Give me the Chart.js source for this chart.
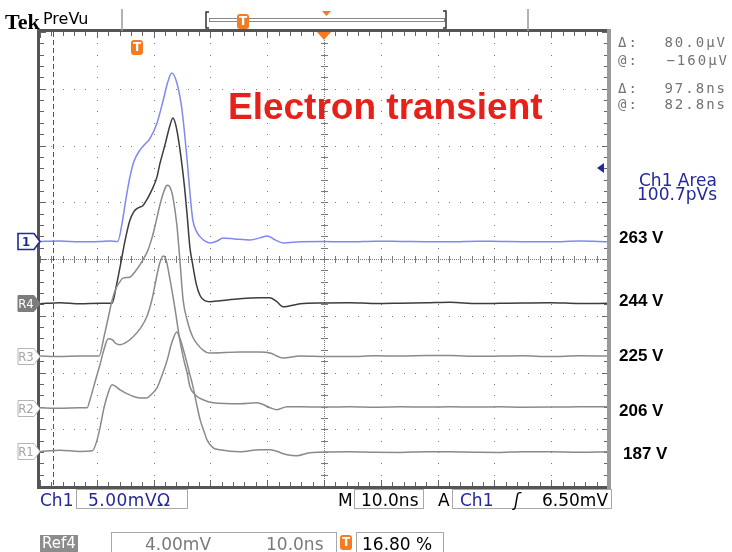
<!DOCTYPE html>
<html>
<head>
<meta charset="utf-8">
<title>Electron transient</title>
<script src="https://cdn.jsdelivr.net/npm/chart.js@4.4.1/dist/chart.umd.min.js"></script>
<style>
  html, body { margin: 0; padding: 0; background: #fff; }
  #screen { position: relative; width: 732px; height: 552px; overflow: hidden; }
  #screen canvas { position: absolute; left: 0; top: 0; }
  .lbl { position: absolute; white-space: nowrap; line-height: 1; }
  .sans { font-family: 'DejaVu Sans', sans-serif; font-size: 17px; }
  .mono { font-family: 'DejaVu Sans Mono', monospace; font-size: 14px; letter-spacing: 2px; color: #737373; }
  .volt { font-family: 'Liberation Sans', Arial, sans-serif; font-weight: bold; font-size: 17px; color: #000; }
  .blue { color: #23289a; }
  .box { position: absolute; border: 1px solid #a8a8a8; box-sizing: border-box; }
  .tmark { position: absolute; width: 12px; height: 15px; background: #f47b20; color: #fff; border-radius: 3px;
           font: bold 12px 'DejaVu Sans', sans-serif; text-align: center; line-height: 15px; }
  .mark { position: absolute; width: 16px; text-align: center; font: 13px 'DejaVu Sans Condensed', 'DejaVu Sans', sans-serif; line-height: 16px; }
</style>
</head>
<body>
<div id="screen">
  <canvas id="scope" width="732" height="552"></canvas>

  <!-- header -->
  <div class="lbl" style="left:5px;top:9px;font:bold 22px 'Liberation Serif',serif;">Tek</div>
  <div class="lbl sans" style="left:43px;top:11px;font-size:16px;">PreVu</div>
  <div class="tmark" style="left:237px;top:14px;">T</div>

  <!-- title -->
  <div class="lbl" style="left:228px;top:86px;font:bold 37px 'Liberation Sans',Arial,sans-serif;color:#e8201a;">Electron transient</div>

  <!-- cursor readouts -->
  <div class="lbl mono" style="left:618px;top:35px;">Δ:</div>
  <div class="lbl mono" style="right:5px;top:35px;">80.0µV</div>
  <div class="lbl mono" style="left:618px;top:53px;">@:</div>
  <div class="lbl mono" style="right:3px;top:53px;">−160µV</div>
  <div class="lbl mono" style="left:618px;top:81px;">Δ:</div>
  <div class="lbl mono" style="right:5px;top:81px;">97.8ns</div>
  <div class="lbl mono" style="left:618px;top:97px;">@:</div>
  <div class="lbl mono" style="right:5px;top:97px;">82.8ns</div>

  <div class="lbl sans blue" style="right:15px;top:172px;">Ch1 Area</div>
  <div class="lbl sans blue" style="right:15px;top:186px;">100.7pVs</div>

  <!-- bias voltages -->
  <div class="lbl volt" style="left:619px;top:229px;">263 V</div>
  <div class="lbl volt" style="left:619px;top:292px;">244 V</div>
  <div class="lbl volt" style="left:619px;top:347px;">225 V</div>
  <div class="lbl volt" style="left:619px;top:402px;">206 V</div>
  <div class="lbl volt" style="left:623px;top:445px;">187 V</div>

  <!-- bottom status -->
  <div class="lbl sans blue" style="left:40px;top:492px;">Ch1</div>
  <div class="box" style="left:76px;top:489px;width:112px;height:20px;"></div>
  <div class="lbl sans blue" style="left:88px;top:492px;letter-spacing:0.5px;">5.00mVΩ</div>
  <div class="lbl sans" style="left:338px;top:492px;">M</div>
  <div class="box" style="left:354px;top:489px;width:70px;height:20px;"></div>
  <div class="lbl sans" style="left:361px;top:492px;">10.0ns</div>
  <div class="lbl sans" style="left:438px;top:492px;">A</div>
  <div class="box" style="left:452px;top:489px;width:160px;height:20px;"></div>
  <div class="lbl sans blue" style="left:460px;top:492px;">Ch1</div>
  <div class="lbl sans" style="left:514px;top:492px;font-style:italic;">ʃ</div>
  <div class="lbl sans" style="left:542px;top:492px;">6.50mV</div>

  <div class="lbl sans" style="left:40px;top:535px;width:38px;height:17px;background:#8c8c8c;color:#fff;font-size:15px;text-align:center;line-height:17px;">Ref4</div>
  <div class="box" style="left:111px;top:532px;width:226px;height:22px;"></div>
  <div class="lbl sans" style="left:145px;top:536px;color:#7a7a7a;">4.00mV</div>
  <div class="lbl sans" style="left:266px;top:536px;color:#7a7a7a;">10.0ns</div>
  <div class="tmark" style="left:340px;top:535px;">T</div>
  <div class="box" style="left:356px;top:532px;width:88px;height:22px;"></div>
  <div class="lbl sans" style="left:362px;top:536px;">16.80 %</div>
</div>

<script>
// horizontal: 10.0 ns/div over 10 divisions, vertical: 8 divisions
const timeMin = 0, timeMax = 100;
const divMin = -4, divMax = 4;
const ch1MvPerDiv = 5.0;
const refMvPerDiv = 4.0;

// ground positions of the traces (divisions from screen centre)
const ch1Ground = 0.31;
const r4Ground = -0.78;
const r3Ground = -1.71;
const r2Ground = -2.62;
const r1Ground = -3.38;

// Ch1, 263 V (live, blue)
const ch1Time = [0, 3.5, 7.0, 10.6, 12.3, 13.7, 14.4, 15.1, 15.8, 16.5, 17.6, 18.5, 19.4, 20.6, 21.7, 22.5, 23.2, 24.1, 25.0, 25.9,
  26.4, 26.9, 27.6, 28.2, 29.0, 29.9, 31.2, 32.2, 34.3, 37.0, 38.7, 40.0, 41.4, 42.8, 45.8, 50.0, 54.6, 59.0, 63.4, 68.0,
  72.2, 77.0, 81.0, 85.0, 89.8, 95.0, 100];
const ch1Mv = [0, 0.04, -0.04, 0, 0.04, 0, 1.45, 3.65, 5.59, 7.00, 8.05, 8.58, 9.11, 10.43, 12.46, 14.04, 14.83, 13.95, 11.58, 7.17,
  4.27, 1.89, 0.84, 0.40, 0.04, -0.13, 0.04, 0.31, 0.22, 0.13, 0.31, 0.48, 0.13, -0.13, -0.04, 0, -0.04, 0.02, 0, -0.03,
  -0.04, 0.02, 0, -0.02, -0.04, 0.03, -0.04];

// R4, 244 V
const r4Time = [0, 3.5, 7.0, 10.6, 12.7, 13.4, 14.1, 15.0, 15.8, 16.5, 17.3, 18.1, 18.8, 19.7, 20.6, 21.1, 22.0, 22.9, 23.4, 23.9,
  24.6, 25.4, 25.9, 26.4, 26.8, 27.5, 28.2, 29.0, 29.9, 31.7, 35.2, 38.7, 40.5, 41.7, 42.8, 44.0, 45.8, 50.0, 54.6, 59.0,
  63.4, 68.0, 72.2, 77.0, 81.0, 85.0, 89.8, 95.0, 100];
const r4Mv = [-0.04, 0.04, -0.04, 0, 0, 1.16, 2.57, 4.47, 5.81, 6.44, 6.73, 6.87, 7.29, 7.99, 8.91, 9.82, 11.16, 12.57, 13.06, 12.57,
  10.95, 8.34, 6.23, 3.91, 2.92, 1.37, 0.53, 0.18, 0.11, 0.18, 0.32, 0.39, 0.39, 0.11, -0.25, -0.18, -0.04, 0.02, 0.04, -0.02,
  0, 0.03, 0.07, -0.02, 0, 0.02, 0.04, -0.02, 0];

// R3, 225 V
const r3Time = [0, 3.5, 7.0, 10.4, 11.3, 12.0, 12.7, 13.4, 13.9, 14.6, 15.8, 16.7, 18.1, 19.0, 19.7, 20.2, 21.1, 21.7, 22.2, 22.5,
  23.1, 23.4, 24.1, 24.6, 25.2, 25.9, 26.9, 28.7, 29.9, 35.2, 38.7, 40.5, 42.8, 45.8, 50.0, 54.6, 59.0, 63.4, 68.0, 72.2,
  77.0, 81.0, 85.0, 89.8, 95.0, 100];
const r3Mv = [0, -0.04, 0, 0, 1.41, 2.68, 3.94, 4.79, 5.14, 5.49, 5.56, 5.92, 6.76, 7.46, 8.31, 9.08, 10.63, 11.48, 11.97, 12.04,
  11.69, 11.20, 9.22, 6.90, 3.94, 2.54, 1.34, 0.42, 0.21, 0.28, 0.28, 0.21, -0.14, 0, -0.03, -0.04, 0.02, 0, 0.03, 0.04,
  -0.02, 0, 0.02, -0.04, 0.02, 0];

// R2, 206 V
const r2Time = [0, 3.5, 7.0, 8.3, 8.8, 9.7, 10.6, 11.3, 12.0, 12.7, 13.4, 14.1, 15.1, 16.4, 17.6, 18.8, 19.7, 20.6, 21.1, 21.7,
  22.2, 22.9, 23.8, 24.6, 25.4, 25.9, 26.4, 27.3, 28.7, 30.5, 35.2, 38.2, 40.5, 41.7, 43.5, 45.8, 50.0, 54.6, 59.0, 63.4,
  68.0, 72.2, 77.0, 81.0, 85.0, 89.8, 95.0, 100];
const r2Mv = [0, -0.04, 0, 0, 0.56, 1.83, 3.10, 4.15, 4.86, 4.79, 4.51, 4.44, 4.58, 5.00, 5.56, 6.41, 7.61, 9.37, 10.21, 10.70,
  10.42, 9.01, 6.90, 4.79, 3.24, 2.46, 1.48, 0.92, 0.56, 0.35, 0.28, 0.35, 0, -0.14, 0.07, 0.07, 0.04, 0.07, 0.03, 0.07,
  0.04, 0.07, 0.04, 0.07, 0.03, 0.04, 0.07, 0.07];

// R1, 187 V
const r1Time = [0, 3.5, 7.0, 9.2, 9.9, 10.6, 11.3, 12.0, 12.7, 13.4, 14.1, 15.8, 17.6, 18.8, 19.7, 20.6, 21.5, 22.4, 23.2, 24.1,
  24.6, 25.5, 26.4, 26.9, 27.6, 28.2, 28.9, 29.4, 30.5, 31.7, 35.2, 38.7, 40.5, 43.5, 45.2, 47.5, 54.6, 59.0, 63.4, 68.0,
  72.2, 77.0, 81.0, 85.0, 89.8, 95.0, 100];
const r1Mv = [-0.04, 0.04, -0.04, 0, 0.56, 1.69, 3.10, 4.08, 4.65, 4.51, 4.30, 3.94, 3.73, 3.73, 4.01, 4.44, 5.35, 6.41, 7.61, 8.38,
  7.96, 6.76, 5.35, 4.58, 3.24, 2.18, 1.34, 0.77, 0.21, 0.07, -0.07, 0.07, 0.07, -0.28, -0.35, -0.14, -0.07, -0.1, -0.11, -0.07,
  -0.07, -0.1, -0.11, -0.07, -0.07, -0.1, -0.07];

const cursorTimes = [2.3, 100.1];
const triggerTime = 16.8;
const markerNames = ['1', 'R4', 'R3', 'R2', 'R1'];
const markerGrounds = [ch1Ground, r4Ground, r3Ground, r2Ground, r1Ground];

function trace(times, mv, ground, perDiv) {
  return times.map((t, i) => ({ x: t, y: ground + mv[i] / perDiv }));
}

const graticule = {
  id: 'graticule',
  beforeDatasetsDraw(chart) {
    const { ctx, chartArea: a, scales: { x, y } } = chart;
    const px = t => Math.round(x.getPixelForValue(t));
    const py = v => Math.round(y.getPixelForValue(v));
    ctx.save();
    ctx.fillStyle = '#7a7a7a';

    // dotted division lines, one dot every 1/5 division
    for (let d = 1; d < 10; d++) {
      if (d === 5) continue;
      const gx = px(d * 10);
      for (let k = 0; k <= 40; k++) ctx.fillRect(gx, py(divMin + k * 0.2), 1, 1);
    }
    for (let d = -3; d <= 3; d++) {
      if (d === 0) continue;
      const gy = py(d);
      for (let k = 0; k <= 50; k++) ctx.fillRect(px(k * 2), gy, 1, 1);
    }

    // centre cross with minor ticks
    const cx = px(50), cy = py(0);
    for (let xx = Math.round(a.left); xx <= a.right; xx += 2) ctx.fillRect(xx, cy, 1, 1);
    for (let yy = Math.round(a.top); yy <= a.bottom; yy += 2) ctx.fillRect(cx, yy, 1, 1);
    for (let k = 0; k <= 50; k++) ctx.fillRect(px(k * 2), cy - 3, 1, 7);
    for (let k = 0; k <= 40; k++) ctx.fillRect(cx - 3, py(divMin + k * 0.2), 7, 1);

    // edge ticks
    ctx.fillStyle = '#666';
    for (let k = 0; k <= 50; k++) {
      const len = k % 5 === 0 ? 6 : 4;
      ctx.fillRect(px(k * 2), a.top, 1, len);
      ctx.fillRect(px(k * 2), a.bottom - len, 1, len);
    }
    for (let k = 0; k <= 40; k++) {
      const len = k % 5 === 0 ? 6 : 4;
      ctx.fillRect(a.left, py(divMin + k * 0.2), len, 1);
      ctx.fillRect(a.right - len, py(divMin + k * 0.2), len, 1);
    }

    // time cursors
    ctx.strokeStyle = '#555';
    ctx.lineWidth = 1;
    ctx.setLineDash([5, 3]);
    cursorTimes.forEach(t => {
      const gx = px(t) + 0.5;
      ctx.beginPath(); ctx.moveTo(gx, a.top); ctx.lineTo(gx, a.bottom); ctx.stroke();
    });
    ctx.restore();
  },
  afterDraw(chart) {
    const { ctx, chartArea: a, scales: { x, y } } = chart;
    ctx.save();
    // frame
    ctx.lineWidth = 3;
    ctx.strokeStyle = '#555';
    ctx.beginPath();
    ctx.moveTo(a.right, a.top - 1.5); ctx.lineTo(a.left - 1.5, a.top - 1.5);
    ctx.lineTo(a.left - 1.5, a.bottom + 1.5); ctx.lineTo(a.right, a.bottom + 1.5);
    ctx.stroke();
    ctx.strokeStyle = '#999';
    ctx.lineWidth = 4;
    ctx.beginPath(); ctx.moveTo(a.right + 1, a.top - 3); ctx.lineTo(a.right + 1, a.bottom + 3); ctx.stroke();

    // expansion point marker on top edge
    const mx = x.getPixelForValue(50);
    ctx.fillStyle = '#f47b20';
    ctx.beginPath(); ctx.moveTo(mx - 7, a.top); ctx.lineTo(mx + 7, a.top); ctx.lineTo(mx, a.top + 8); ctx.closePath(); ctx.fill();

    // record view bar in the header
    ctx.fillStyle = '#f47b20';
    ctx.beginPath(); ctx.moveTo(322, 11); ctx.lineTo(331, 11); ctx.lineTo(326.5, 16); ctx.closePath(); ctx.fill();
    ctx.strokeStyle = '#999'; ctx.lineWidth = 1.5;
    ctx.beginPath(); ctx.moveTo(122, 9); ctx.lineTo(122, 31); ctx.moveTo(528, 9); ctx.lineTo(528, 31); ctx.stroke();
    ctx.strokeStyle = '#888'; ctx.lineWidth = 1;
    ctx.strokeRect(209.5, 18.5, 235, 3);
    ctx.strokeStyle = '#333'; ctx.lineWidth = 1.5;
    ctx.beginPath();
    ctx.moveTo(209, 12); ctx.lineTo(206, 12); ctx.lineTo(206, 28); ctx.lineTo(209, 28);
    ctx.moveTo(443, 11); ctx.lineTo(446, 11); ctx.lineTo(446, 28); ctx.lineTo(443, 28);
    ctx.stroke();

    // area gate arrow
    ctx.fillStyle = '#23289a';
    ctx.beginPath(); ctx.moveTo(597, 168); ctx.lineTo(604, 163); ctx.lineTo(604, 173); ctx.closePath(); ctx.fill();

    // ground markers on the left edge
    markerGrounds.forEach((g, i) => {
      const gy = Math.round(y.getPixelForValue(g)) + 0.5;
      ctx.beginPath();
      ctx.moveTo(18, gy - 8); ctx.lineTo(34, gy - 8); ctx.lineTo(40, gy);
      ctx.lineTo(34, gy + 8); ctx.lineTo(18, gy + 8); ctx.closePath();
      if (i === 0) { ctx.fillStyle = '#fff'; ctx.strokeStyle = '#23289a'; ctx.lineWidth = 1.6; }
      else if (i === 1) { ctx.fillStyle = '#7d7d7d'; ctx.strokeStyle = '#7d7d7d'; ctx.lineWidth = 1; }
      else { ctx.fillStyle = '#fff'; ctx.strokeStyle = '#b5b5b5'; ctx.lineWidth = 1; }
      ctx.fill(); ctx.stroke();
    });
    ctx.restore();
  }
};

const chart = new Chart(document.getElementById('scope'), {
  type: 'line',
  data: {
    datasets: [
      { label: '187 V', data: trace(r1Time, r1Mv, r1Ground, refMvPerDiv), borderColor: '#8a8a8a' },
      { label: '206 V', data: trace(r2Time, r2Mv, r2Ground, refMvPerDiv), borderColor: '#8a8a8a' },
      { label: '225 V', data: trace(r3Time, r3Mv, r3Ground, refMvPerDiv), borderColor: '#8a8a8a' },
      { label: '244 V', data: trace(r4Time, r4Mv, r4Ground, refMvPerDiv), borderColor: '#3c3c3c' },
      { label: '263 V', data: trace(ch1Time, ch1Mv, ch1Ground, ch1MvPerDiv), borderColor: '#8088f0' }
    ]
  },
  options: {
    responsive: false,
    animation: false,
    layout: { padding: { left: 40, right: 124, top: 32, bottom: 66 } },
    scales: {
      x: { type: 'linear', min: timeMin, max: timeMax, display: false },
      y: { type: 'linear', min: divMin, max: divMax, display: false }
    },
    elements: {
      point: { radius: 0 },
      line: { borderWidth: 1.5, cubicInterpolationMode: 'monotone' }
    },
    plugins: { legend: { display: false }, tooltip: { enabled: false } }
  },
  plugins: [graticule]
});

// marker captions and trigger flag, placed from the chart's scales
const screen = document.getElementById('screen');
markerGrounds.forEach((g, i) => {
  const el = document.createElement('div');
  el.className = 'mark';
  el.textContent = markerNames[i];
  el.style.left = '18px';
  el.style.top = (Math.round(chart.scales.y.getPixelForValue(g)) - 7) + 'px';
  el.style.color = i === 0 ? '#23289a' : i === 1 ? '#fff' : '#a5a5a5';
  if (i === 0) el.style.fontWeight = 'bold';
  screen.appendChild(el);
});
const trig = document.createElement('div');
trig.className = 'tmark';
trig.textContent = 'T';
trig.style.left = (Math.round(chart.scales.x.getPixelForValue(triggerTime)) - 4) + 'px';
trig.style.top = '40px';
screen.appendChild(trig);
</script>
</body>
</html>
